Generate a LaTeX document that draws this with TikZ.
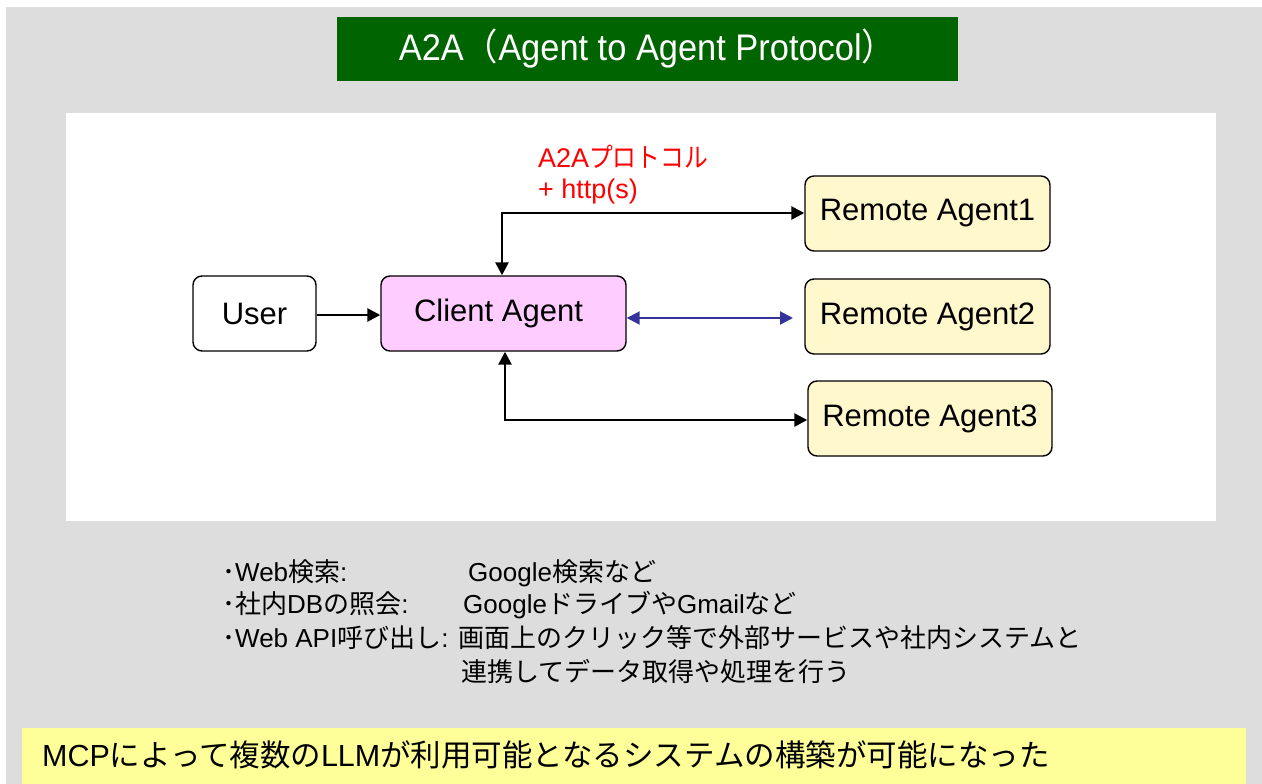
\documentclass[tikz,border=0pt]{standalone}
\usepackage{fontspec}
\setmainfont{Liberation Sans}
\newfontfamily\jp{Noto Sans CJK JP}
\usetikzlibrary{arrows.meta}
\definecolor{bggray}{HTML}{DDDDDD}
\definecolor{titlegreen}{HTML}{006400}
\definecolor{pinkfill}{HTML}{FFCCFF}
\definecolor{remotefill}{HTML}{FFF8CC}
\definecolor{bandyellow}{HTML}{FFFF99}
\definecolor{arrowblue}{HTML}{333399}
\tikzset{
  agentbox/.style={draw=black, line width=1.4pt, rounded corners=9pt, inner sep=0pt, font=\fontsize{31}{34}\selectfont},
  tip/.tip={Triangle[length=13pt,width=13pt]},
  conn/.style={line width=2.6pt, -tip},
  bconn/.style={line width=2.6pt, tip-tip},
  bullet/.style={anchor=base west, inner sep=0pt, font=\fontsize{26}{30}\selectfont},
}
\begin{document}
\begin{tikzpicture}[x=1pt,y=-1pt]
\useasboundingbox (0,0) rectangle (1262,784);
\fill[white] (0,0) rectangle (1262,784);
\fill[bggray] (6,7) rectangle (1262,784);
\fill[white] (66,113) rectangle (1216,521);
% title
\node[fill=titlegreen, minimum width=621pt, minimum height=64pt, inner sep=0pt, text=white, font=\fontsize{37}{40}\selectfont] (title) at (647.5,49) {\scalebox{0.93}[1]{A2A{\jp（}Agent to Agent Protocol{\jp）}}};
% boxes
\node[agentbox, fill=white, minimum width=123pt, minimum height=75pt] (user) at (254.5,313.5) {User};
\node[agentbox, fill=pinkfill, minimum width=245pt, minimum height=75pt] (client) at (503.5,313.5) {Client Agent\hspace*{10pt}};
\node[agentbox, fill=remotefill, minimum width=245pt, minimum height=75pt] (r1) at (927.5,213.5) {Remote Agent1};
\node[agentbox, fill=remotefill, minimum width=245pt, minimum height=75pt] (r2) at (927.5,316.5) {Remote Agent2};
\node[agentbox, fill=remotefill, minimum width=244pt, minimum height=75pt] (r3) at (930,418.5) {Remote Agent3};
% red label
\node[anchor=base west, inner sep=0pt, text=red, font=\fontsize{27}{30}\selectfont] (lab1) at (538,167) {A2A{\jp\scalebox{0.88}[1]{プロトコル}}};
\node[anchor=base west, inner sep=0pt, text=red, font=\fontsize{27}{30}\selectfont] (lab2) at (538,198) {+ http(s)};
% connectors
\coordinate (c1) at (502,213);
\coordinate (c3) at (505,420);
\draw[conn] (user.east |- 0,315) -- (client.west |- 0,315);
\draw[bconn] (client.north -| c1) -- (c1) -- (r1.west |- c1);
\draw[bconn] (client.south -| c3) -- (c3) -- (r3.west |- c3);
\coordinate (b2) at (793,318);
\draw[line width=2pt, arrowblue, tip-tip] (client.east |- b2) -- (b2);
% bullets
\node[bullet] (b1a) at (222,581) {{\jp ･}Web{\jp 検索}:};
\node[bullet] (b1b) at (468,581) {Google{\jp 検索など}};
\node[bullet] (b2a) at (222,613) {{\jp ･社内}DB{\jp の照会}:};
\node[bullet] (b2b) at (463,613) {Google{\jp ドライブや}Gmail{\jp など}};
\node[bullet] (b3a) at (222,647) {{\jp ･}Web API{\jp 呼び出し}:};
\node[bullet] (b3b) at (458,647) {\jp 画面上のクリック等で外部サービスや社内システムと};
\node[bullet] (b4a) at (461,681) {\jp 連携してデータ取得や処理を行う};
% bottom band
\fill[bandyellow] (22,728) rectangle (1246,784);
\node[anchor=base west, inner sep=0pt, font=\fontsize{30.5}{32}\selectfont] (concl) at (42,766) {MCP{\jp によって複数の}LLM{\jp が利用可能となるシステムの構築が可能になった}};
\end{tikzpicture}
\end{document}
